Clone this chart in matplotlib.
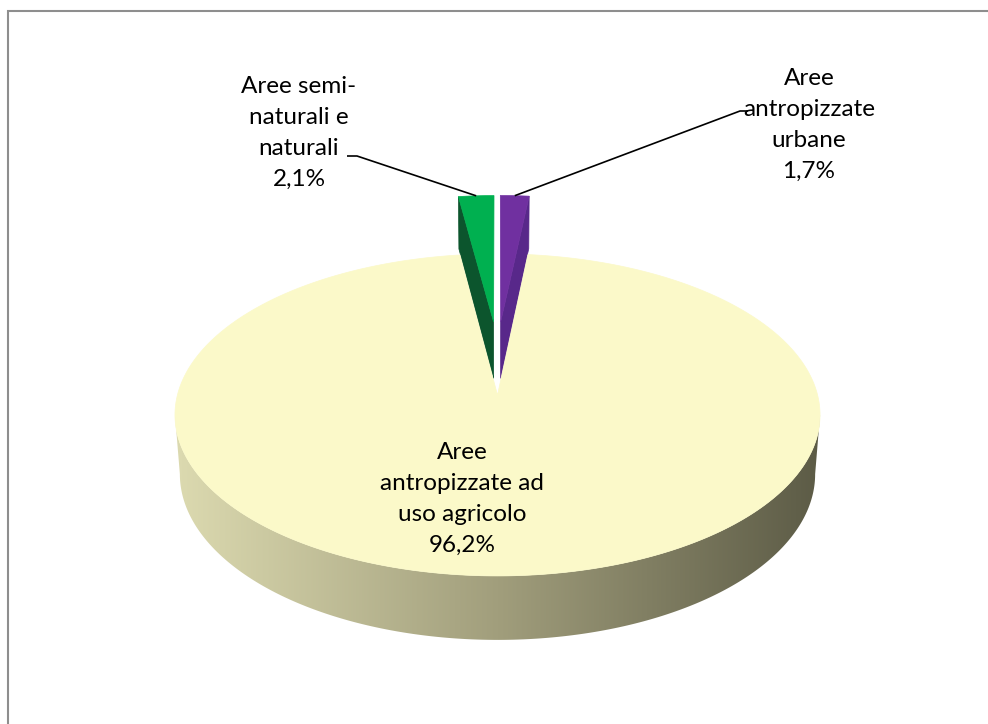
import numpy as np
import matplotlib.pyplot as plt
from matplotlib.patches import Polygon
from matplotlib.colors import LinearSegmentedColormap

plt.rcParams['font.family'] = ['Lato', 'DejaVu Sans']

# dati (ordine orario a partire dalle ore 12)
categorie = ['Aree\nantropizzate\nurbane',
             'Aree\nantropizzate ad\nuso agricolo',
             'Aree semi-\nnaturali e\nnaturali']
valori = [1.7, 96.2, 2.1]

# stile
esplosione = [0.49, 0.0, 0.49]
col_sopra = ['#7030A0', '#FBF9C9', '#00B050']
col_taglio = ['#58288A', None, '#0C552D']
pos_etichette = [(809, 125), (462, 499), (299, 133)]
gomiti = [[(748, 111), (740, 111)], None, [(347, 156), (357, 156)]]

# proiezione prospettica della torta 3D (coordinate in pixel)
W, H = 988, 724
cx, cy = 497.5, 395.0
alpha = np.radians(29.7)
D = 7.03
scala = 2250.0
h = 0.215
kx = 0.4
ca, sa = np.cos(alpha), np.sin(alpha)


def proietta(X, Y, Z):
    depth = D + Y * ca - Z * sa
    return cx + scala * X / depth, cy - scala * (Y * sa + Z * ca) / depth


fig = plt.figure(figsize=(W / 100, H / 100), dpi=100)
ax = fig.add_axes([0, 0, 1, 1])
ax.set_xlim(0, W)
ax.set_ylim(H, 0)
ax.axis('off')

tot = sum(valori)
angoli = np.concatenate([[0], np.cumsum(valori) / tot * 360])

# spicchi esplosi (dietro)
for i in range(len(valori)):
    if esplosione[i] == 0:
        continue
    a, b = np.radians(angoli[i]), np.radians(angoli[i + 1])
    m = (a + b) / 2
    ox = esplosione[i] * np.sin(m) * kx
    oy = esplosione[i] * np.cos(m)
    t = np.linspace(a, b, 60)
    # faccia di taglio visibile
    for ang in (a, b):
        vis = (ang == a and np.sin(a) < -1e-9) or (ang == b and np.sin(b) > 1e-9)
        if not vis:
            continue
        X = np.array([ox, ox + np.sin(ang), ox + np.sin(ang), ox])
        Y = np.array([oy, oy + np.cos(ang), oy + np.cos(ang), oy])
        Z = np.array([0, 0, -h, -h])
        px, py = proietta(X, Y, Z)
        ax.add_patch(Polygon(np.column_stack([px, py]), closed=True,
                             fc=col_taglio[i], ec=col_taglio[i], lw=0.5, zorder=1))
    X = np.concatenate([[ox], ox + np.sin(t)])
    Y = np.concatenate([[oy], oy + np.cos(t)])
    px, py = proietta(X, Y, np.zeros_like(X))
    ax.add_patch(Polygon(np.column_stack([px, py]), closed=True,
                         fc=col_sopra[i], ec=col_sopra[i], lw=0.5, zorder=2))

# spicchio principale
i = 1
a, b = np.radians(angoli[i]), np.radians(angoli[i + 1])
th = np.linspace(0, 2 * np.pi, 3601)
tx, ty = proietta(np.sin(th), np.cos(th), 0)
bx, by = proietta(np.sin(th), np.cos(th), -h)
iRt, iLt = np.argmax(tx), np.argmin(tx)
iRb, iLb = np.argmax(bx), np.argmin(bx)
sx = np.concatenate([tx[iRt:iLt + 1], bx[iLb:iRb - 1:-1]])
sy = np.concatenate([ty[iRt:iLt + 1], by[iLb:iRb - 1:-1]])
lato = Polygon(np.column_stack([sx, sy]), closed=True, fc='none', ec='none', zorder=3)
ax.add_patch(lato)
cmap = LinearSegmentedColormap.from_list('lato', ['#DCDAB0', '#A19E7C', '#5C5B46'])
grad = np.linspace(0, 1, 256)[None, :]
img = ax.imshow(grad, cmap=cmap, aspect='auto', zorder=3,
                extent=[sx.min(), sx.max(), sy.max(), sy.min()])
img.set_clip_path(lato)
ax.set_xlim(0, W)
ax.set_ylim(H, 0)

t = np.linspace(a, b, 800)
X = np.concatenate([[0], np.sin(t)])
Y = np.concatenate([[0], np.cos(t)])
px, py = proietta(X, Y, np.zeros_like(X))
ax.add_patch(Polygon(np.column_stack([px, py]), closed=True,
                     fc=col_sopra[i], ec=col_sopra[i], lw=0.5, zorder=4))

# etichette e linee guida
for i in range(len(valori)):
    testo = categorie[i] + '\n' + f'{valori[i]:.1f}'.replace('.', ',') + '%'
    ax.text(*pos_etichette[i], testo, ha='center', va='center', ma='center',
            fontsize=17.5, linespacing=1.6, color='black', zorder=6)
    if gomiti[i] is not None:
        m = np.radians((angoli[i] + angoli[i + 1]) / 2)
        ox = esplosione[i] * np.sin(m) * kx
        oy = esplosione[i] * np.cos(m)
        ex, ey = proietta(ox + np.sin(m), oy + np.cos(m), 0)
        pts = np.array(gomiti[i] + [(ex, ey)])
        ax.plot(pts[:, 0], pts[:, 1], color='black', lw=1.2, zorder=5,
                solid_capstyle='butt')

# cornice dell'area del grafico (bordo sinistro e superiore)
ax.plot([8, 8, W + 5], [H + 5, 11, 11], color='#8E8E8E', lw=1.5, zorder=7,
        solid_joinstyle='miter')

fig.savefig('out.png', dpi=100)
